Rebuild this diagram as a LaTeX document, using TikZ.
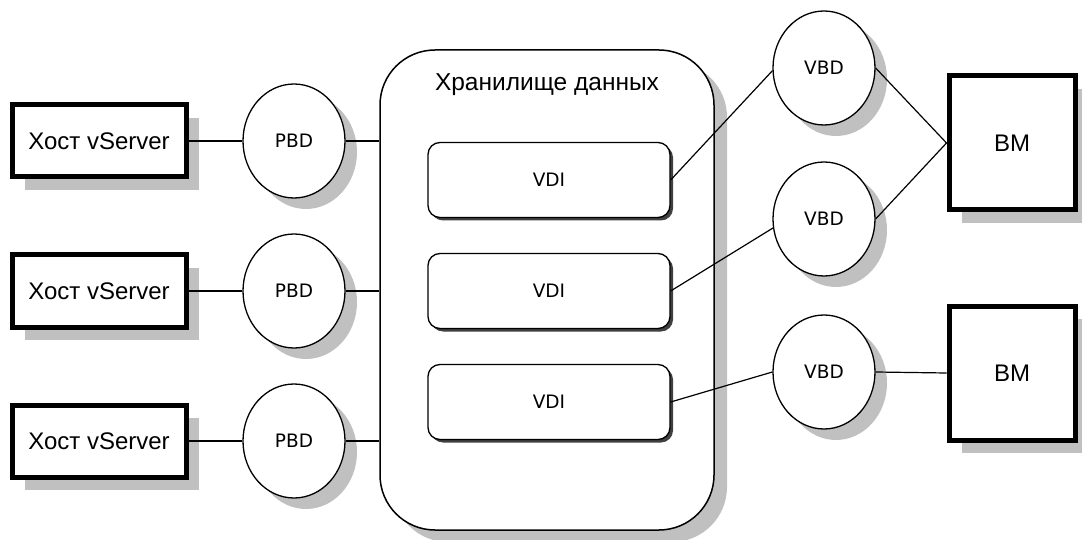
\documentclass[tikz,border=0pt]{standalone}
\usepackage{fontspec}
\setmainfont{Liberation Sans}
\newfontfamily\labfont{DejaVu Sans}
\usetikzlibrary{positioning, shadows, shapes.geometric}
\definecolor{shadegray}{HTML}{C0C0C0}
\definecolor{vdishade}{HTML}{404040}

\begin{document}
\begin{tikzpicture}[x=1pt, y=-1pt,
    hostbox/.style={draw, line width=5pt, fill=white, minimum width=174pt, minimum height=72pt,
      font=\fontsize{24}{26}\selectfont,
      drop shadow={shadow xshift=13pt, shadow yshift=-13pt, fill=shadegray, opacity=1}},
    vmbox/.style={hostbox, minimum width=126pt, minimum height=134pt},
    bd/.style={draw, ellipse, line width=1.3pt, fill=white, minimum width=102pt, minimum height=114pt,
      inner sep=0pt, font=\labfont\fontsize{18.5}{20}\selectfont,
      drop shadow={shadow xshift=12pt, shadow yshift=-11pt, fill=shadegray, opacity=1}},
    store/.style={draw, line width=1.5pt, fill=white, rounded corners=55pt,
      minimum width=334pt, minimum height=480pt,
      drop shadow={shadow xshift=13pt, shadow yshift=-12pt, fill=shadegray, opacity=1}},
    vdibox/.style={draw, line width=1.3pt, fill=white, rounded corners=12pt,
      minimum width=242pt, minimum height=75pt, font=\labfont\fontsize{18.5}{20}\selectfont,
      drop shadow={shadow xshift=3pt, shadow yshift=-3pt, fill=vdishade, opacity=1}},
    link/.style={line width=1.2pt}]
  \useasboundingbox (0,0) rectangle (1082,540);

  % storage with its disks
  \node (store) at (547,290) [store] {};
  \node (storetitle) at (547,85) [font=\fontsize{24.5}{26}\selectfont] {Хранилище данных};
  \node (vdi1) at (549,180) [vdibox] {VDI};
  \node (vdi2) at (549,291) [vdibox] {VDI};
  \node (vdi3) at (549,402) [vdibox] {VDI};

  % hosts and PBDs
  \foreach \i/\y in {1/141, 2/291, 3/441} {
    \node (host\i) at (99,\y) [hostbox] {Хост vServer};
    \node (pbd\i) at (294,\y) [bd] {PBD};
  }

  % VBDs and VMs
  \node (vbd1) at (824,68) [bd] {VBD};
  \node (vbd2) at (824,219) [bd] {VBD};
  \node (vbd3) at (824,372) [bd] {VBD};
  \node (vm1) at (1012,143) [vmbox] {ВМ};
  \node (vm2) at (1012,373) [vmbox] {ВМ};

  \foreach \i in {1,2,3} {
    \draw [link] (host\i) -- (pbd\i);
    \draw [link] (pbd\i.east) -- (pbd\i.east -| store.west);
  }
  \draw [link] (vdi1.east) -- (vbd1.183);
  \draw [link] (vdi2.east) -- (vbd2.190);
  \draw [link] (vdi3.east) -- (vbd3.west);
  \draw [link] (vbd1.east) -- (vm1.west);
  \draw [link] (vbd2.east) -- (vm1.west);
  \draw [link] (vbd3.east) -- (vm2.west);
\end{tikzpicture}
\end{document}
